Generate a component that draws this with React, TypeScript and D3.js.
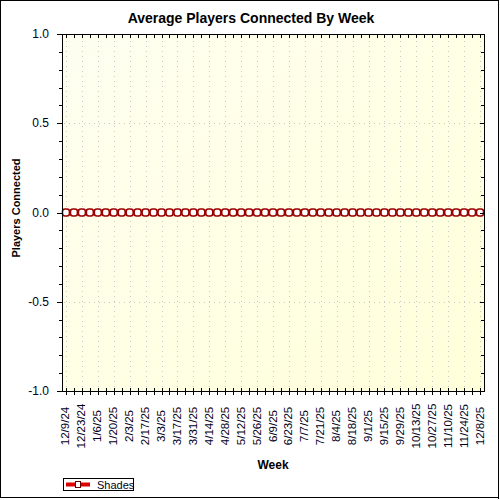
import { useEffect, useRef } from "react";
import * as d3 from "d3";

const weeks = [
    "12/9/24", "12/16/24", "12/23/24", "12/30/24", "1/6/25", "1/13/25", "1/20/25", "1/27/25",
    "2/3/25", "2/10/25", "2/17/25", "2/24/25", "3/3/25", "3/10/25", "3/17/25", "3/24/25",
    "3/31/25", "4/7/25", "4/14/25", "4/21/25", "4/28/25", "5/5/25", "5/12/25", "5/19/25",
    "5/26/25", "6/2/25", "6/9/25", "6/16/25", "6/23/25", "6/30/25", "7/7/25", "7/14/25",
    "7/21/25", "7/28/25", "8/4/25", "8/11/25", "8/18/25", "8/25/25", "9/1/25", "9/8/25",
    "9/15/25", "9/22/25", "9/29/25", "10/6/25", "10/13/25", "10/20/25", "10/27/25", "11/3/25",
    "11/10/25", "11/17/25", "11/24/25", "12/1/25", "12/8/25",
];

const shades = [
    0, 0, 0, 0, 0, 0, 0, 0, 0, 0, 0, 0, 0, 0, 0, 0, 0, 0, 0, 0, 0, 0, 0, 0, 0, 0, 0,
    0, 0, 0, 0, 0, 0, 0, 0, 0, 0, 0, 0, 0, 0, 0, 0, 0, 0, 0, 0, 0, 0, 0, 0, 0, 0,
];

const yTickLabels = [-1.0, -0.5, 0.0, 0.5, 1.0];
const yMinorTicks = [-0.9, -0.8, -0.7, -0.6, -0.4, -0.3, -0.2, -0.1, 0.1, 0.2, 0.3, 0.4, 0.6, 0.7, 0.8, 0.9];

const App = () => {
    const svgRef = useRef<SVGSVGElement | null>(null);
    const width = 500;
    const height = 500;

    useEffect(() => {
        if (!svgRef.current) return;
        const svg = d3.select(svgRef.current);
        svg.selectAll("*").remove();

        const left = 62, right = 484, top = 34, bottom = 391;
        const font = "Arial, 'Liberation Sans', sans-serif";

        const x = d3.scalePoint<string>().domain(weeks).range([left, right]).padding(0.5);
        const y = d3.scaleLinear().domain([-1, 1]).range([bottom, top]);

        // background + outer frame
        svg.append("rect").attr("width", width).attr("height", height).attr("fill", "#fff");
        svg.append("rect").attr("x", 0.5).attr("y", 0.5).attr("width", 498).attr("height", 497)
            .attr("fill", "none").attr("stroke", "#000").attr("stroke-width", 1);
        svg.append("line").attr("x1", 498.5).attr("x2", 498.5).attr("y1", 0).attr("y2", 499).attr("stroke", "#000");
        svg.append("line").attr("x1", 0).attr("x2", 499).attr("y1", 497.5).attr("y2", 497.5).attr("stroke", "#000");

        // plot gradient
        const defs = svg.append("defs");
        const grad = defs.append("linearGradient").attr("id", "bg")
            .attr("x1", "0%").attr("y1", "0%").attr("x2", "100%").attr("y2", "100%");
        grad.append("stop").attr("offset", "0%").attr("stop-color", "#fefef0");
        grad.append("stop").attr("offset", "100%").attr("stop-color", "#ffffda");
        svg.append("rect").attr("x", left).attr("y", top)
            .attr("width", right - left).attr("height", bottom - top).attr("fill", "url(#bg)");

        // grid
        const grid = svg.append("g").attr("stroke", "#c8c8c8").attr("stroke-width", 1)
            .attr("stroke-dasharray", "1,4");
        weeks.filter((_, i) => i % 2 === 0).forEach((w) => {
            const gx = Math.round(x(w)!) + 0.5;
            grid.append("line").attr("x1", gx).attr("x2", gx).attr("y1", top + 2).attr("y2", bottom);
        });
        yTickLabels.forEach((v) => {
            const gy = Math.round(y(v)) + 0.5;
            grid.append("line").attr("x1", left + 2).attr("x2", right).attr("y1", gy).attr("y2", gy);
        });

        // series line + markers
        const line = d3.line<number>()
            .x((_, i) => x(weeks[i])!)
            .y((d) => y(d));
        svg.append("path").datum(shades).attr("d", line).attr("fill", "none")
            .attr("stroke", "#990000").attr("stroke-width", 2);
        svg.append("g").selectAll("rect").data(shades).enter().append("rect")
            .attr("x", (_, i) => x(weeks[i])! - 3.5)
            .attr("y", (d) => y(d) - 3.5)
            .attr("width", 7).attr("height", 7).attr("rx", 2.5)
            .attr("fill", "#fff").attr("stroke", "#990000").attr("stroke-width", 1.6);

        // frame + ticks
        const frame = svg.append("g").attr("stroke", "#000").attr("stroke-width", 1).attr("shape-rendering", "crispEdges");
        frame.append("line").attr("x1", left).attr("x2", right + 1).attr("y1", top).attr("y2", top);
        frame.append("line").attr("x1", right).attr("x2", right).attr("y1", top).attr("y2", bottom);
        frame.append("line").attr("x1", left).attr("x2", left).attr("y1", top).attr("y2", bottom + 1);
        frame.append("line").attr("x1", left - 3).attr("x2", right + 1).attr("y1", bottom).attr("y2", bottom);
        weeks.forEach((w) => {
            const tx = Math.round(x(w)!);
            frame.append("line").attr("x1", tx).attr("x2", tx).attr("y1", bottom - 3).attr("y2", bottom + 4);
            frame.append("line").attr("x1", tx).attr("x2", tx).attr("y1", top).attr("y2", top + 4);
        });
        yMinorTicks.forEach((v) => {
            const ty = Math.round(y(v));
            frame.append("line").attr("x1", left - 3).attr("x2", left).attr("y1", ty).attr("y2", ty);
            frame.append("line").attr("x1", right - 3).attr("x2", right).attr("y1", ty).attr("y2", ty);
        });
        yTickLabels.forEach((v) => {
            const ty = Math.round(y(v));
            frame.append("line").attr("x1", left - 5).attr("x2", left).attr("y1", ty).attr("y2", ty);
            frame.append("line").attr("x1", right - 4).attr("x2", right).attr("y1", ty).attr("y2", ty);
        });

        // y tick labels
        svg.append("g").selectAll("text").data(yTickLabels).enter().append("text")
            .attr("x", 49).attr("y", (d) => y(d)).attr("dy", "0.35em")
            .attr("text-anchor", "end").attr("font-family", font).attr("font-size", 12)
            .attr("fill", "#000022").text((d) => d3.format(".1f")(d).replace("−", "-"));

        // x tick labels
        svg.append("g").selectAll("text").data(weeks.filter((_, i) => i % 2 === 0)).enter().append("text")
            .attr("transform", (d) => `translate(${x(d)! + 3.5},426) rotate(-90)`)
            .attr("text-anchor", "middle").attr("font-family", font).attr("font-size", 11.5)
            .attr("fill", "#000022").text((d) => d);

        // titles
        svg.append("text").attr("x", 251).attr("y", 23).attr("text-anchor", "middle")
            .attr("font-family", font).attr("font-size", 14).attr("font-weight", "bold").text("Average Players Connected By Week");
        svg.append("text").attr("x", (left + right) / 2).attr("y", 469).attr("text-anchor", "middle")
            .attr("font-family", font).attr("font-size", 12).attr("font-weight", "bold").text("Week");
        svg.append("text").attr("transform", `translate(20,208) rotate(-90)`)
            .attr("text-anchor", "middle").attr("font-family", font).attr("font-size", 11)
            .attr("font-weight", "bold").text("Players Connected");

        // legend
        const lg = svg.append("g");
        lg.append("rect").attr("x", 63.5).attr("y", 478.5).attr("width", 70).attr("height", 12)
            .attr("fill", "#fff").attr("stroke", "#000");
        lg.append("line").attr("x1", 66).attr("x2", 90).attr("y1", 484.5).attr("y2", 484.5)
            .attr("stroke", "#dd0000").attr("stroke-width", 4);
        lg.append("rect").attr("x", 75.5).attr("y", 481.5).attr("width", 5).attr("height", 6)
            .attr("fill", "#fff").attr("stroke", "#660000").attr("stroke-width", 1);
        lg.append("text").attr("x", 97).attr("y", 488.5).attr("font-family", font).attr("font-size", 11)
            .attr("fill", "#000022").text("Shades");
    }, []);

    return (
        <svg ref={svgRef} width={width} height={height}
            style={{ position: "absolute", left: 0, top: 0, display: "block" }} />
    );
};

export default App;
